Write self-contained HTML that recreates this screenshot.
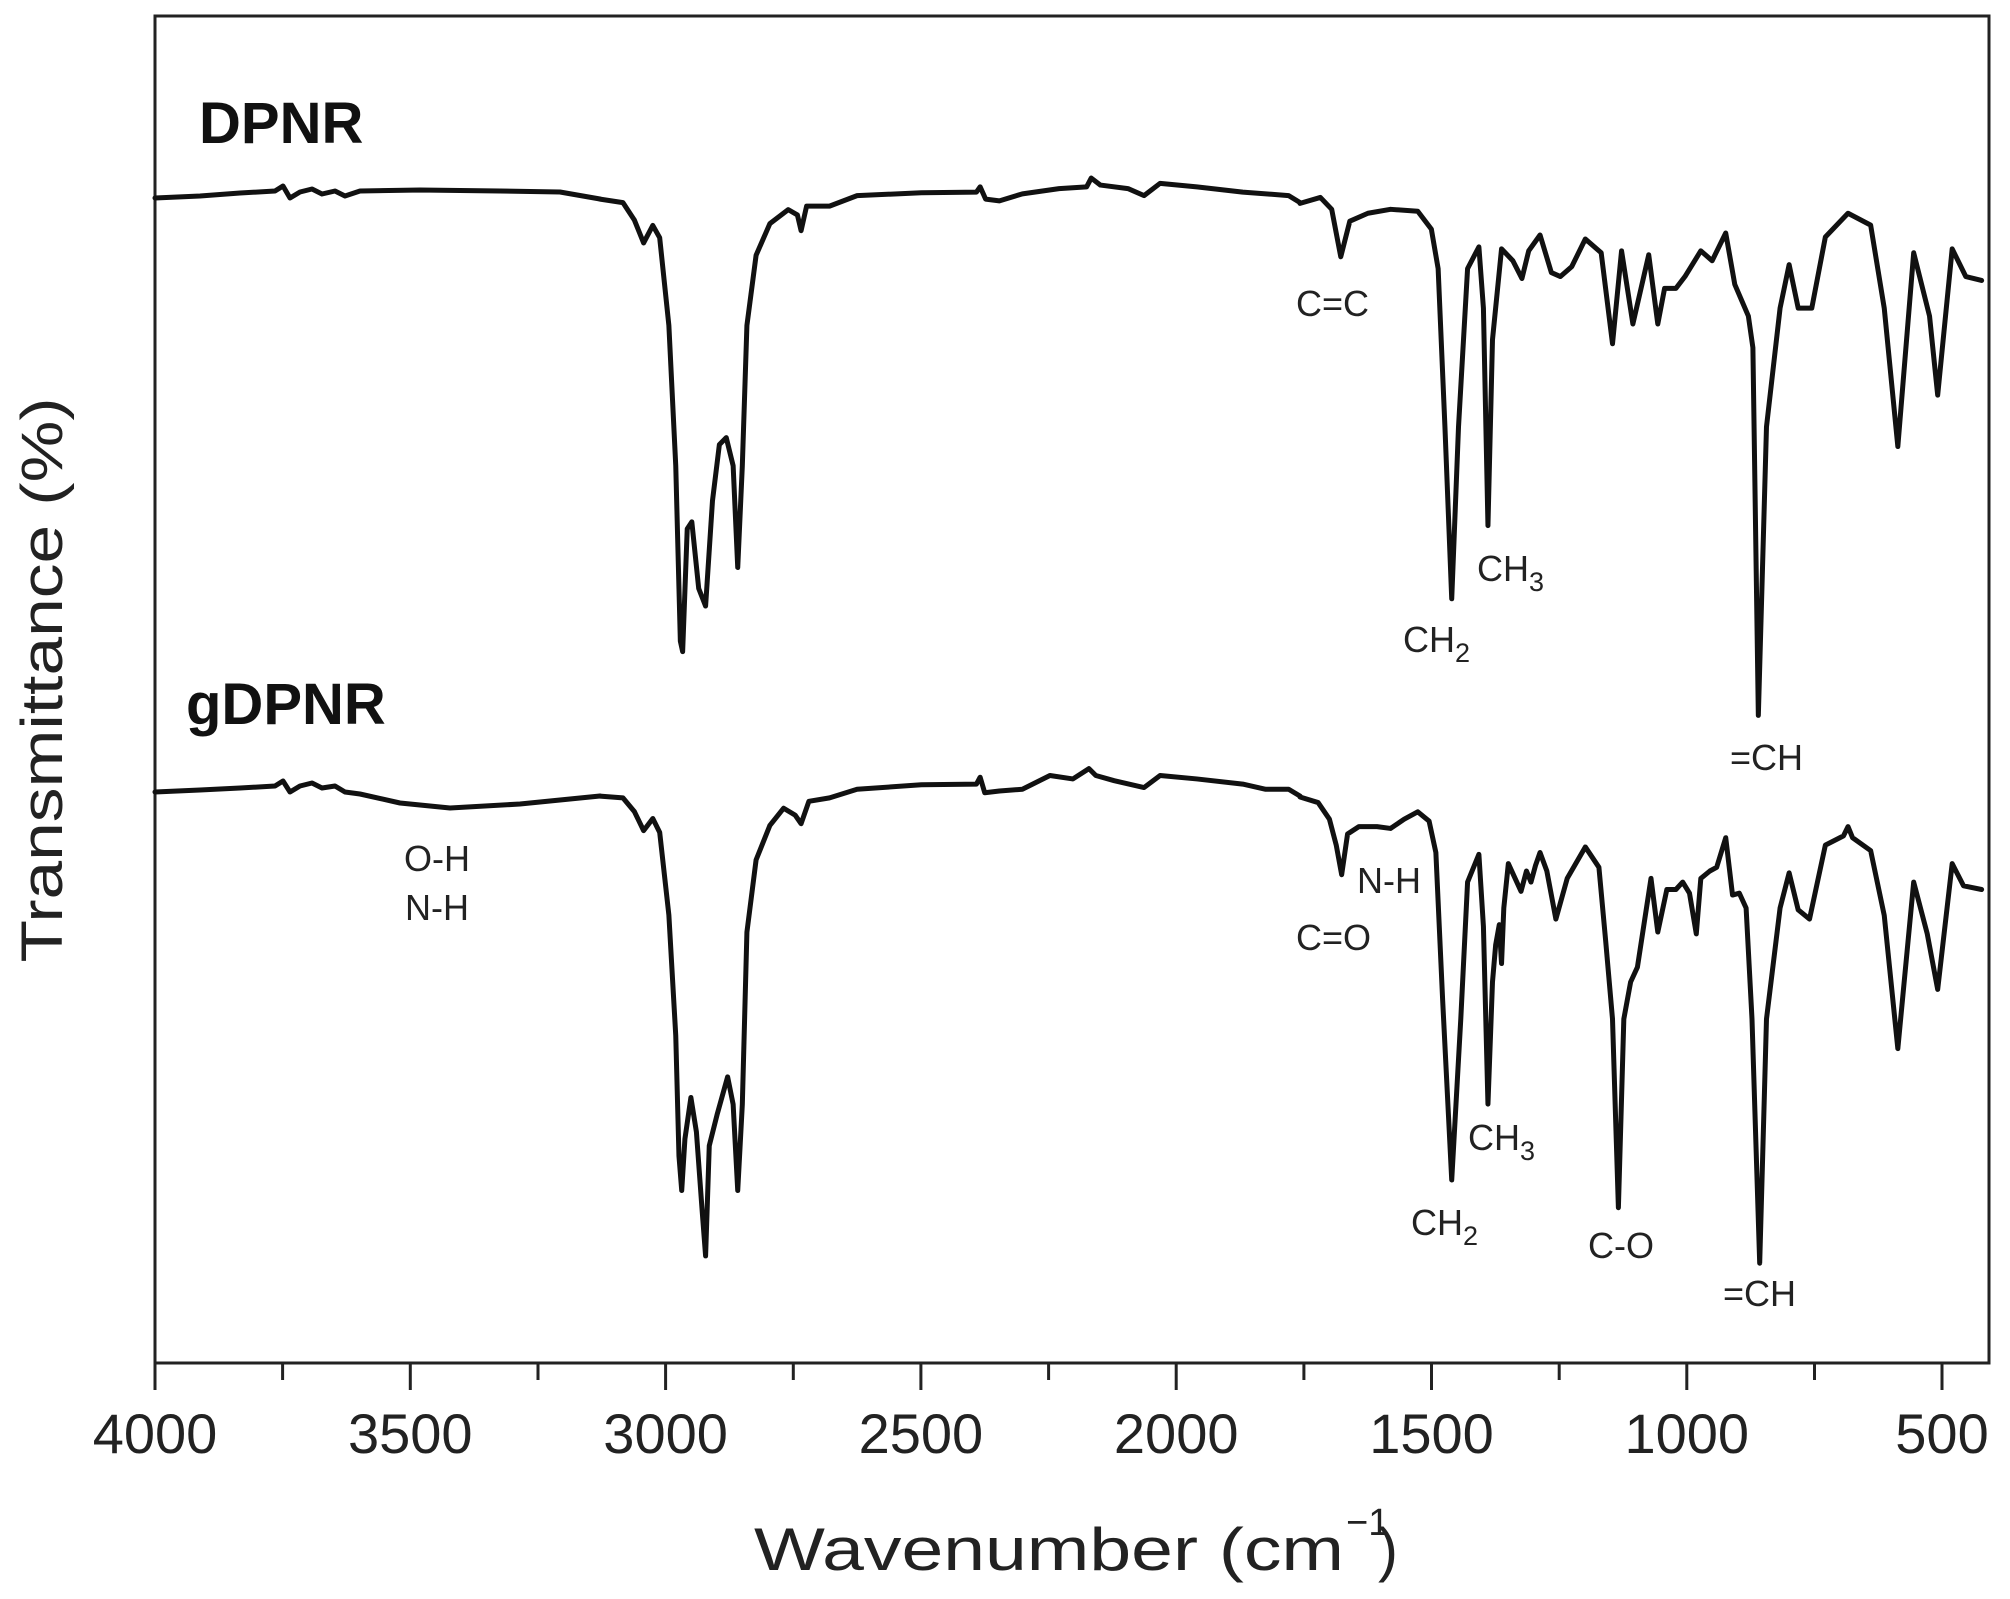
<!DOCTYPE html>
<html><head><meta charset="utf-8"><style>
html,body{margin:0;padding:0;background:#fff;}
svg{display:block;}
text{font-family:"Liberation Sans",Arial,sans-serif;fill:#222;}
</style></head><body>
<svg width="2010" height="1599" viewBox="0 0 2010 1599" xmlns="http://www.w3.org/2000/svg">
<rect width="2010" height="1599" fill="#fff"/>
<rect x="155" y="16" width="1834" height="1347" fill="none" stroke="#222" stroke-width="3"/>
<g stroke="#222" stroke-width="3">
<line x1="155" y1="1363" x2="155" y2="1390"/><line x1="282.6" y1="1363" x2="282.6" y2="1380"/>
<line x1="410.3" y1="1363" x2="410.3" y2="1390"/><line x1="538" y1="1363" x2="538" y2="1380"/>
<line x1="665.6" y1="1363" x2="665.6" y2="1390"/><line x1="793.3" y1="1363" x2="793.3" y2="1380"/>
<line x1="920.9" y1="1363" x2="920.9" y2="1390"/><line x1="1048.6" y1="1363" x2="1048.6" y2="1380"/>
<line x1="1176.2" y1="1363" x2="1176.2" y2="1390"/><line x1="1303.9" y1="1363" x2="1303.9" y2="1380"/>
<line x1="1431.5" y1="1363" x2="1431.5" y2="1390"/><line x1="1559.2" y1="1363" x2="1559.2" y2="1380"/>
<line x1="1686.8" y1="1363" x2="1686.8" y2="1390"/><line x1="1814.5" y1="1363" x2="1814.5" y2="1380"/>
<line x1="1942" y1="1363" x2="1942" y2="1390"/>
</g>
<g font-size="56" text-anchor="middle">
<text x="155" y="1453">4000</text><text x="410.3" y="1453">3500</text><text x="665.6" y="1453">3000</text>
<text x="920.9" y="1453">2500</text><text x="1176.2" y="1453">2000</text><text x="1431.5" y="1453">1500</text>
<text x="1686.8" y="1453">1000</text><text x="1942" y="1453">500</text>
</g>
<text x="754" y="1570" font-size="60" textLength="590" lengthAdjust="spacingAndGlyphs">Wavenumber (cm</text>
<text x="1346" y="1535" font-size="38">−1</text>
<text x="1378" y="1570" font-size="60">)</text>
<text transform="translate(62,680) rotate(-90)" font-size="58" text-anchor="middle" textLength="565" lengthAdjust="spacingAndGlyphs">Transmittance (%)</text>

<g fill="none" stroke="#111" stroke-width="5" stroke-linejoin="round" stroke-linecap="round">
<path d="M155,198 L200,196 L240,193 L275,191 L283,186 L290,198 L300,192 L312,189 L322,194 L335,191 L345,196 L360,191 L420,190 L500,191 L560,192 L600,199"/>
<g transform="translate(600,150) scale(0.4591,0.3508)">
<path vector-effect="non-scaling-stroke" d="M0,140 L50,150 L75,200 L95,265 L115,215 L130,250 L150,500 L165,900 L175,1400 L180,1430 L190,1080 L200,1060 L215,1250 L230,1300 L245,1000 L260,840 L275,820 L290,900 L300,1190 L310,900 L320,500 L340,300 L370,210 L410,170 L430,185 L438,230 L450,160 L500,160 L560,130 L700,122 L820,120 L828,105 L840,140 L870,145 L920,125 L1000,110 L1060,105 L1070,80 L1090,100 L1150,110 L1185,130 L1220,95 L1300,105 L1400,120 L1500,130 L1525,150"/>
</g>
<g transform="translate(1300,150) scale(0.4529,0.3954)">
<path vector-effect="non-scaling-stroke" d="M0,135 L45,120 L70,150 L90,270 L110,180 L150,160 L200,150 L260,155 L290,200 L305,300 L320,700 L335,1135 L350,700 L370,300 L395,245 L405,400 L415,950 L425,480 L445,250 L470,280 L490,325 L505,255 L530,215 L555,310 L575,320 L600,295 L630,225 L665,260 L690,490 L710,255 L735,440 L770,265 L790,440 L805,350 L830,350 L850,320 L885,255 L910,280 L940,210 L960,340 L975,380 L990,420 L1000,500 L1012,1430 L1030,700 L1060,400 L1080,290 L1100,400 L1130,400 L1160,220 L1210,160 L1260,190 L1290,400 L1320,750 L1355,260 L1390,420 L1408,620 L1440,250 L1470,320 L1505,330"/>
</g>
<path d="M155,792 L200,790 L240,788 L275,786 L283,781 L290,792 L300,786 L312,783 L322,788 L335,786 L345,792 L360,794 L400,803 L450,808 L520,804 L560,800 L600,796"/>
<g transform="translate(600,760) scale(0.4591,0.3444)">
<path vector-effect="non-scaling-stroke" d="M0,105 L50,110 L75,150 L95,205 L115,170 L130,210 L150,450 L165,800 L172,1150 L178,1250 L185,1100 L198,980 L210,1080 L222,1300 L230,1440 L238,1120 L255,1030 L278,920 L290,1000 L300,1250 L310,1000 L320,500 L340,290 L370,190 L400,140 L425,160 L438,185 L455,120 L500,110 L560,85 L700,72 L820,70 L828,50 L838,95 L870,90 L920,85 L980,45 L1030,55 L1065,25 L1080,45 L1120,60 L1185,80 L1220,45 L1300,55 L1400,70 L1450,85 L1500,85 L1525,105"/>
</g>
<g transform="translate(1300,760) scale(0.4529,0.37)">
<path vector-effect="non-scaling-stroke" d="M0,100 L40,115 L65,160 L80,230 L92,310 L105,200 L130,180 L170,180 L200,185 L230,160 L260,140 L285,165 L300,250 L315,650 L335,1135 L355,700 L370,330 L395,255 L405,450 L415,930 L425,600 L432,500 L440,445 L445,550 L450,400 L460,280 L475,320 L488,355 L500,300 L510,330 L520,285 L530,250 L545,300 L565,430 L590,320 L630,235 L660,290 L675,490 L690,700 L703,1210 L715,700 L730,600 L745,560 L775,320 L790,465 L810,350 L830,350 L845,330 L860,360 L875,470 L885,320 L905,300 L920,290 L940,210 L955,365 L970,360 L985,400 L998,700 L1015,1360 L1030,700 L1060,400 L1080,305 L1100,405 L1125,430 L1160,230 L1200,205 L1210,180 L1220,210 L1260,245 L1290,420 L1320,780 L1355,330 L1385,470 L1408,620 L1440,280 L1465,340 L1505,350"/>
</g>
</g>

<text x="199" y="143" font-size="58" font-weight="bold" style="fill:#111">DPNR</text>
<text x="186" y="724" font-size="58" font-weight="bold" style="fill:#111">gDPNR</text>

<g font-size="36">
<text x="1296" y="316">C=C</text>
<text x="1477" y="581">CH<tspan font-size="27" dy="10">3</tspan></text>
<text x="1403" y="652">CH<tspan font-size="27" dy="10">2</tspan></text>
<text x="1730" y="770">=CH</text>
<text x="437" y="871" text-anchor="middle">O-H</text>
<text x="437" y="920" text-anchor="middle">N-H</text>
<text x="1357" y="893">N-H</text>
<text x="1296" y="950">C=O</text>
<text x="1468" y="1150">CH<tspan font-size="27" dy="10">3</tspan></text>
<text x="1411" y="1235">CH<tspan font-size="27" dy="10">2</tspan></text>
<text x="1588" y="1258">C-O</text>
<text x="1723" y="1306">=CH</text>
</g>
</svg>
</body></html>
